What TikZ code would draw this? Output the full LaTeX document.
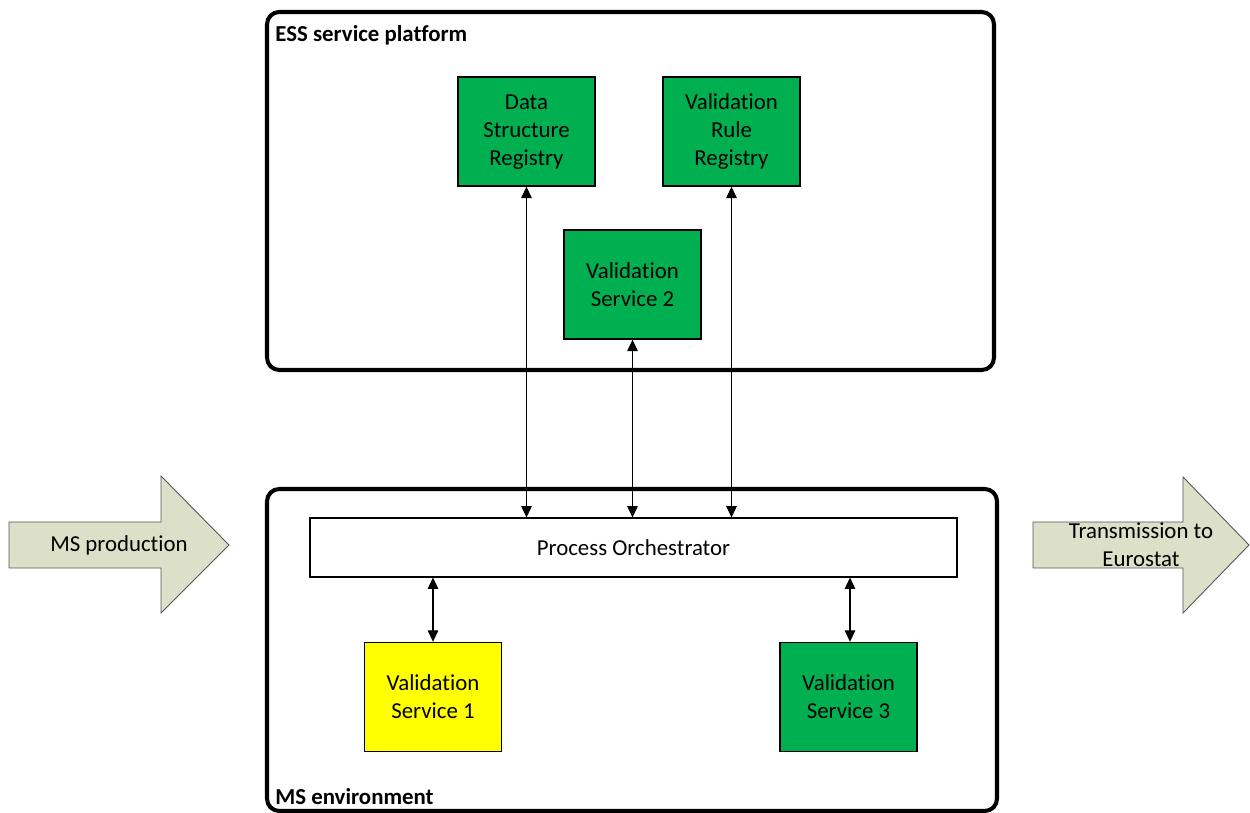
\documentclass[tikz,border=0pt]{standalone}
\usepackage{fontspec}
\setmainfont{Carlito}[Ligatures={NoCommon,NoDiscretionary,NoRare},RawFeature={-liga;-clig;-dlig;-calt}]
\usetikzlibrary{arrows.meta}
\definecolor{boxgreen}{HTML}{00B050}
\definecolor{boxyellow}{HTML}{FFFF00}
\definecolor{flowfill}{HTML}{DDE0C9}
\definecolor{flowline}{HTML}{555555}
\newcommand{\threelines}[3]{\raisebox{-1.5pt}{\begin{tabular}{@{}c@{}}#1\\#2\\#3\end{tabular}}}
\begin{document}
\begin{tikzpicture}[x=0.02cm,y=-0.02cm,
  every node/.style={font=\fontsize{13}{15.9}\selectfont, inner sep=0pt},
  svc/.style={draw=black, line width=0.8pt, fill=boxgreen, align=center,
    minimum width={137*0.02cm}, minimum height={109*0.02cm}},
  area/.style={draw=black, line width=2.3pt, rounded corners=7pt},
  arealabel/.style={anchor=west, font=\fontsize{13}{15.9}\selectfont\bfseries},
  link/.style={line width=0.6pt, {Triangle[length=6.5pt,width=6pt]}-{Triangle[length=6.5pt,width=6pt]}},
  flow/.style={draw=flowline, line width=0.5pt, fill=flowfill}
]
\useasboundingbox (0,0) rectangle (1250,813);

% platform and environment frames
\draw[area] (267,12) rectangle (994,370);
\node[arealabel] (esslbl) at (275,35) {ESS service platform};
\draw[area] (267,489) rectangle (997,811);
\node[arealabel] (mslbl) at (275,797) {MS environment};

% shared services on the ESS platform
\node[svc] (dsr) at (526.5,131.5) {\threelines{Data}{Structure}{Registry}};
\node[svc] (vrr) at (731.5,131.5) {\threelines{Validation}{Rule}{Registry}};
\node[svc] (vs2) at (632.5,284.5) {Validation\\Service 2};

% orchestrator and local services
\node[draw=black, line width=0.6pt, fill=white,
  minimum width={647*0.02cm}, minimum height={59*0.02cm}] (po) at (633.5,547.5) {Process Orchestrator};
\node[svc, fill=boxyellow] (vs1) at (433,697) {Validation\\Service 1};
\node[svc] (vs3) at (848.5,697) {Validation\\Service 3};

% two-way links
\draw[link] (dsr.south) -- (dsr.south |- po.north);
\draw[link] (vs2.south) -- (vs2.south |- po.north);
\draw[link] (vrr.south) -- (vrr.south |- po.north);
\draw[link] (po.south -| vs1.north) -- (vs1.north);
\draw[link] (po.south -| 850,0) -- (850,0 |- vs3.north);

% incoming and outgoing flows
\draw[flow] (9,522) -- (161,522) -- (161,476) -- (229,545) -- (161,613) -- (161,568) -- (9,568) -- cycle;
\node (msprod) at (119,545) {MS production};
\draw[flow] (1033,522) -- (1183,522) -- (1183,477) -- (1249,545) -- (1183,613) -- (1183,568) -- (1033,568) -- cycle;
\node[align=center] (trans) at (1141,545) {Transmission to\\Eurostat};
\end{tikzpicture}
\end{document}
